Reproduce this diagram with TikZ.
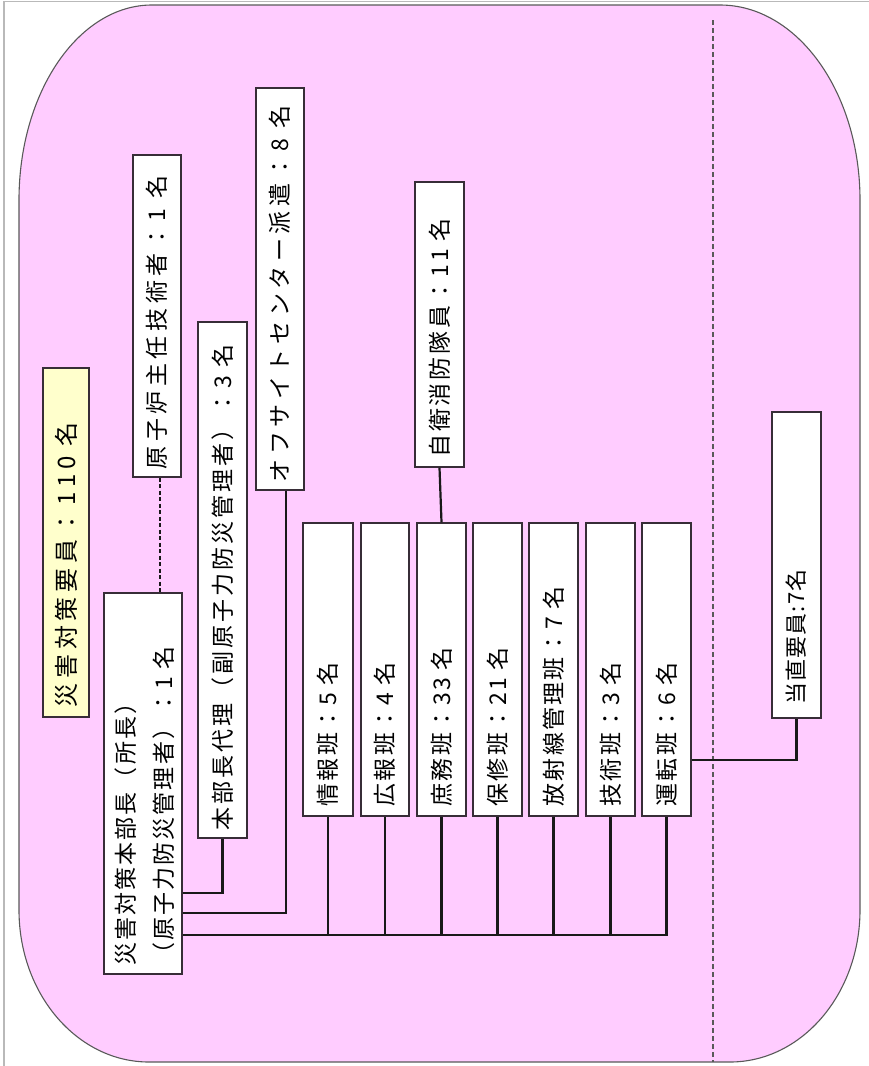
\documentclass[tikz,border=0pt]{standalone}
\usepackage{fontspec}
\newfontfamily\jp{Noto Sans CJK JP}
\definecolor{bgpink}{RGB}{255,204,255}
\definecolor{boxyellow}{RGB}{255,255,204}
\definecolor{edge}{RGB}{55,45,55}
\tikzset{
  box/.style={draw=edge, line width=1.4pt, fill=white, inner sep=0pt},
  lbl/.style={inner sep=0pt, rotate=90, anchor=west, text=black},
  conn/.style={draw=black!90, line width=2.2pt},
  fs/.style 2 args={font=\jp\fontsize{#1}{#1}\selectfont\addfontfeature{LetterSpace=#2}},
}
\begin{document}
\begin{tikzpicture}[x=1pt, y=-1pt]
\useasboundingbox (0,0) rectangle (869,1066);
% outer grey frame
\draw[gray!55, line width=1.5pt] (4,1066) -- (4,1.5) -- (869,1.5);
% pink rounded area
\path[fill=bgpink, draw=black!65, line width=1.1pt]
  (19,200) -- (19,910)
  arc[start angle=180, end angle=270, x radius=130pt, y radius=152pt]
  -- (730,1062)
  arc[start angle=270, end angle=360, x radius=130pt, y radius=152pt]
  -- (860,200)
  arc[start angle=0, end angle=90, x radius=140pt, y radius=195pt]
  -- (152,5)
  arc[start angle=90, end angle=180, x radius=133pt, y radius=195pt]
  -- cycle;
% dashed separator
\draw[black!65, line width=1.4pt, dash pattern=on 5pt off 3pt] (713,20) -- (713,1062);

% boxes
\node[box, fill=boxyellow, minimum width=46pt, minimum height=349pt] (yel) at (66,542.5) {};
\node[box, minimum width=48pt, minimum height=322pt] (gen) at (157,316) {};
\node[box, minimum width=49pt, minimum height=516pt] (dai) at (222.5,580) {};
\node[box, minimum width=48pt, minimum height=402pt] (off) at (280,289) {};
\node[box, minimum width=78pt, minimum height=381pt] (hq) at (143,783.5) {};
\node[box, minimum width=49pt, minimum height=285pt] (jiei) at (439.5,324.5) {};
\node[box, minimum width=50pt, minimum height=293pt] (r1) at (328,669.5) {};
\node[box, minimum width=48pt, minimum height=293pt] (r2) at (385,669.5) {};
\node[box, minimum width=49pt, minimum height=293pt] (r3) at (441.5,669.5) {};
\node[box, minimum width=49pt, minimum height=293pt] (r4) at (497.5,669.5) {};
\node[box, minimum width=49pt, minimum height=293pt] (r5) at (553.5,669.5) {};
\node[box, minimum width=49pt, minimum height=293pt] (r6) at (610.5,669.5) {};
\node[box, minimum width=49pt, minimum height=293pt] (r7) at (666.5,669.5) {};
\node[box, minimum width=49pt, minimum height=306pt] (toch) at (796.5,565) {};

% labels
\node[lbl, fs={24pt}{20}] (t-yel) at ([yshift=10pt]yel.south) {災害対策要員：110 名};
\node[lbl, fs={23pt}{20}] (t-gen) at ([yshift=8pt]gen.south) {原子炉主任技術者：1 名};
\node[lbl, fs={23pt}{13}] (t-dai) at ([yshift=8pt]dai.south) {本部長代理（副原子力防災管理者）：3 名};
\node[lbl, fs={23pt}{20}] (t-off) at ([yshift=8pt]off.south) {オフサイトセンター派遣：8 名};
\node[lbl, align=left, font=\jp\fontsize{23pt}{38pt}\selectfont\addfontfeature{LetterSpace=9}] (t-hq) at ([xshift=2pt, yshift=9pt]hq.south)
  {災害対策本部長（所長）\\（原子力防災管理者）：1 名};
\node[lbl, fs={23pt}{12}] (t-jiei) at ([yshift=10pt]jiei.south) {自衛消防隊員：11 名};
\node[lbl, fs={23pt}{10}] (t-r1) at ([yshift=10pt]r1.south) {情報班：5 名};
\node[lbl, fs={23pt}{10}] (t-r2) at ([yshift=10pt]r2.south) {広報班：4 名};
\node[lbl, fs={23pt}{10}] (t-r3) at ([yshift=10pt]r3.south) {庶務班：33 名};
\node[lbl, fs={23pt}{10}] (t-r4) at ([yshift=10pt]r4.south) {保修班：21 名};
\node[lbl, fs={23pt}{10}] (t-r5) at ([yshift=10pt]r5.south) {放射線管理班：7 名};
\node[lbl, fs={23pt}{10}] (t-r6) at ([yshift=10pt]r6.south) {技術班：3 名};
\node[lbl, fs={23pt}{10}] (t-r7) at ([yshift=10pt]r7.south) {運転班：6 名};
\node[lbl, fs={22pt}{5}] (t-toch) at ([yshift=14pt]toch.south) {当直要員:7名};

% connectors
\coordinate (yDai) at (0,893);
\coordinate (yOff) at (0,913);
\coordinate (yBus) at (0,935);
\coordinate (yT) at (0,760);
\draw[conn, dash pattern=on 4pt off 2.5pt] ([xshift=3pt]gen.south) -- ([xshift=3pt]gen.south |- hq.north);
\draw[conn] (dai.south) |- (hq.east |- yDai);
\draw[conn] ([xshift=6pt]off.south) |- (hq.east |- yOff);
\draw[conn] (hq.east |- yBus) -| (r7.south);
\foreach \r in {r1,r2,r3,r4,r5,r6} \draw[conn] (\r.south) -- (\r.south |- yBus);
\draw[conn] (jiei.south) -- (r3.north);
\draw[conn] (r7.east |- yT) -| (toch.south);
\end{tikzpicture}
\end{document}
